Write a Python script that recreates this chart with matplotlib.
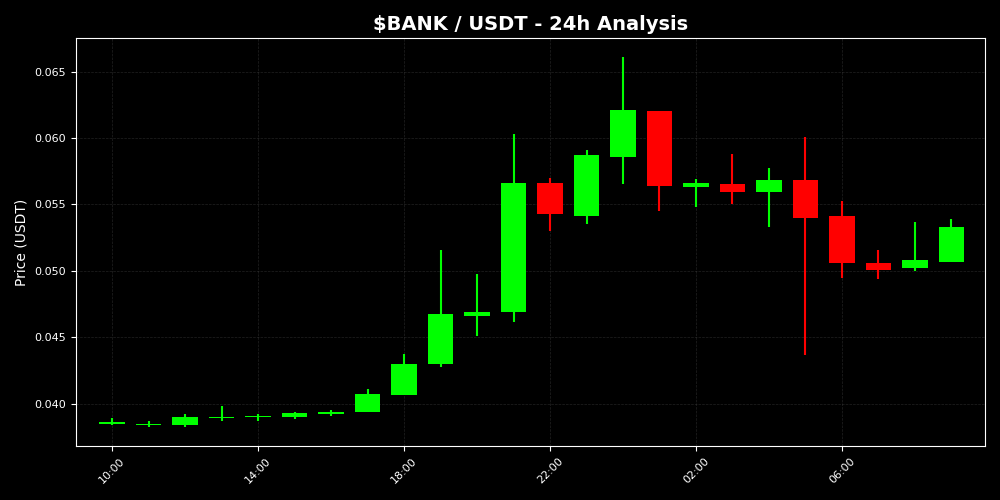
import matplotlib
matplotlib.use('Agg')
import matplotlib.pyplot as plt
import numpy as np

# hourly candles, 10:00 -> 09:00
hours = ['10:00', '11:00', '12:00', '13:00', '14:00', '15:00', '16:00', '17:00',
         '18:00', '19:00', '20:00', '21:00', '22:00', '23:00', '00:00', '01:00',
         '02:00', '03:00', '04:00', '05:00', '06:00', '07:00', '08:00', '09:00']
opens = [0.03845, 0.03845, 0.0384, 0.03895, 0.0390, 0.0390, 0.0392, 0.0394,
         0.04068, 0.04301, 0.04663, 0.04693, 0.05664, 0.05416, 0.0586, 0.0620,
         0.05634, 0.05654, 0.05596, 0.05687, 0.05416, 0.05056, 0.05019, 0.05064]
closes = [0.0386, 0.0385, 0.0390, 0.0390, 0.0391, 0.0393, 0.0394, 0.04075,
          0.0430, 0.04672, 0.04693, 0.05664, 0.05427, 0.05868, 0.06209, 0.05636,
          0.05664, 0.05596, 0.05687, 0.05396, 0.05056, 0.05006, 0.05084, 0.05333]
highs = [0.0389, 0.0387, 0.0392, 0.0398, 0.0392, 0.0394, 0.03955, 0.0411,
         0.0437, 0.0516, 0.04977, 0.0603, 0.0570, 0.05913, 0.06613, 0.0620,
         0.05692, 0.0588, 0.0577, 0.0601, 0.05529, 0.0516, 0.0537, 0.0539]
lows = [0.0384, 0.0382, 0.0382, 0.0387, 0.0387, 0.0388, 0.0391, 0.0394,
        0.04063, 0.04273, 0.04512, 0.04612, 0.0530, 0.0535, 0.0565, 0.05453,
        0.05478, 0.0550, 0.0533, 0.04367, 0.04944, 0.04937, 0.04996, 0.05064]

x = np.arange(len(hours))
o = np.array(opens)
c = np.array(closes)
colors = ['#00ff00' if cc >= oo else '#ff0000' for oo, cc in zip(o, c)]

fig, ax = plt.subplots(figsize=(10, 5), dpi=100)
fig.patch.set_facecolor('black')
ax.set_facecolor('black')

# wicks then bodies
ax.vlines(x, lows, highs, colors=colors, linewidth=1.5)
body_h = np.maximum(np.abs(c - o), 0.00006)
body_b = np.minimum(o, c) - np.where(np.abs(c - o) < 0.00006, 0.00003, 0)
ax.bar(x, body_h, bottom=body_b, width=0.7, color=colors, zorder=3)

ax.set_xlim(-0.99, 23.92)
ax.set_xticks(x[::4])
ax.set_xticklabels(hours[::4], rotation=45)
ax.yaxis.set_major_formatter(matplotlib.ticker.FormatStrFormatter('%.3f'))

ax.set_title('\\$BANK / USDT - 24h Analysis', color='white', fontsize=14, fontweight='bold')
ax.set_ylabel('Price (USDT)', color='white', fontsize=10)
ax.tick_params(colors='white', labelsize=8)
for s in ax.spines.values():
    s.set_color('white')
ax.grid(True, color='#444444', linestyle='--', linewidth=0.5, alpha=0.5)
ax.set_axisbelow(True)

plt.subplots_adjust(left=0.076, right=0.985, top=0.924, bottom=0.108)
plt.savefig('out.png', facecolor='black')
